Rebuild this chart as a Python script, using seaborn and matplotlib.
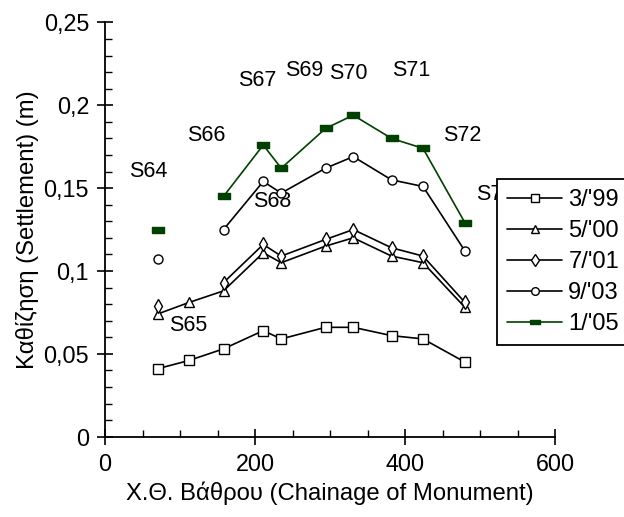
import numpy as np
import pandas as pd
import matplotlib
matplotlib.use("Agg")
import matplotlib.pyplot as plt
from matplotlib.lines import Line2D
from matplotlib.ticker import MultipleLocator, FuncFormatter
import seaborn as sns

# Monument chainage (m) and station names
chainage = [70, 112, 158, 211, 235, 294, 331, 382, 424, 480]
stations = ["S64", "S65", "S66", "S67", "S68", "S69", "S70", "S71", "S72", "S73"]

# Settlement (m) per survey; NaN = station not measured
s_mar99 = [0.041, 0.046, 0.053, 0.064, 0.059, 0.066, 0.066, 0.061, 0.059, 0.045]
s_may00 = [0.074, 0.081, 0.088, 0.111, 0.105, 0.115, 0.120, 0.109, 0.105, 0.078]
s_jul01 = [0.079, np.nan, 0.093, 0.116, 0.109, 0.119, 0.125, 0.114, 0.109, 0.081]
s_sep03 = [0.107, np.nan, 0.125, 0.154, 0.147, 0.162, 0.169, 0.155, 0.151, 0.112]
s_jan05 = [0.125, np.nan, 0.145, 0.176, 0.162, 0.186, 0.194, 0.180, 0.174, 0.129]

survey_labels = ["3/'99", "5/'00", "7/'01", "9/'03", "1/'05"]

# Station label positions (chainage, settlement)
label_x = [57, 111, 135, 203, 223, 265, 324, 408, 476, 520]
label_y = [0.160, 0.067, 0.182, 0.215, 0.142, 0.221, 0.219, 0.221, 0.182, 0.146]

sns.set_style("ticks")
plt.rcParams["font.family"] = ["Liberation Sans", "DejaVu Sans"]
plt.rcParams["text.color"] = "black"
plt.rcParams["axes.labelcolor"] = "black"
plt.rcParams["xtick.color"] = "black"
plt.rcParams["ytick.color"] = "black"
FS_TEXT = 15.5
FS_TICK = 16.8
FS_LABEL = 17.2
FS_LEGEND = 17

fig = plt.figure(figsize=(6.24, 5.17), dpi=100)
ax = fig.add_axes([105 / 624, 1 - 436.7 / 517, 450 / 624, (436.7 - 22.4) / 517])

green = "#004000"
rect_marker = [(-1, -0.42), (1, -0.42), (1, 0.42), (-1, 0.42), (-1, -0.42)]
styles = [
    dict(marker="s", ms=6.5, mfc="white", mec="black", color="black"),
    dict(marker="^", ms=7, mfc="white", mec="black", color="black"),
    dict(marker="d", ms=7, mfc="white", mec="black", color="black"),
    dict(marker="o", ms=6.5, mfc="white", mec="black", color="black"),
    dict(marker=rect_marker, ms=9, mfc=green, mec=green, color=green),
]


def segments(values):
    """Split a series at missing values so gaps stay unconnected."""
    seg, ids = 0, []
    prev_nan = False
    for v in values:
        if np.isnan(v):
            prev_nan = True
            ids.append(-1)
            continue
        if prev_nan:
            seg += 1
        prev_nan = False
        ids.append(seg)
    return ids


series_vals = [s_mar99, s_may00, s_jul01, s_sep03, s_jan05]

handles = []
for vals, lab, st in zip(series_vals, survey_labels, styles):
    df = pd.DataFrame({"chainage": chainage, "settlement": vals,
                       "seg": segments(vals)})
    df = df[df["seg"] >= 0]
    sns.lineplot(data=df, x="chainage", y="settlement", units="seg",
                 estimator=None, sort=False, ax=ax, legend=False,
                 color=st["color"], linewidth=1.2, marker=st["marker"],
                 markersize=st["ms"], markerfacecolor=st["mfc"],
                 markeredgecolor=st["mec"], markeredgewidth=1.0, zorder=3)
    handles.append(Line2D([], [], color=st["color"], linewidth=1.2,
                          marker=st["marker"], markersize=st["ms"] * 0.85,
                          markerfacecolor=st["mfc"], markeredgecolor=st["mec"],
                          markeredgewidth=1.0, label=lab))

for name, lx, ly in zip(stations, label_x, label_y):
    ax.text(lx, ly, name, fontsize=FS_TEXT, ha="center", va="center", zorder=2)

ax.set_xlim(0, 600)
ax.set_ylim(0, 0.25)
ax.xaxis.set_major_locator(MultipleLocator(200))
ax.xaxis.set_minor_locator(MultipleLocator(50))
ax.yaxis.set_major_locator(MultipleLocator(0.05))
ax.yaxis.set_minor_locator(MultipleLocator(0.01))
ax.yaxis.set_major_formatter(FuncFormatter(lambda v, p: f"{v:g}".replace(".", ",")))
ax.xaxis.set_major_formatter(FuncFormatter(lambda v, p: f"{v:g}"))

ax.tick_params(which="major", direction="inout", length=11, width=1.2,
               labelsize=FS_TICK, color="black", labelcolor="black", pad=6)
ax.tick_params(which="minor", direction="in", length=5, width=1.0, color="black")
for side in ("top", "right"):
    ax.spines[side].set_visible(False)
for side in ("left", "bottom"):
    ax.spines[side].set_linewidth(1.3)
    ax.spines[side].set_color("black")

ax.set_xlabel("Χ.Θ. Βάθρου (Chainage of Monument)", fontsize=FS_LABEL,
              labelpad=4, color="black")
ax.set_ylabel("Καθίζηση (Settlement) (m)", fontsize=FS_LABEL, labelpad=3,
              color="black")

leg = ax.legend(handles=handles, loc="upper left",
                bbox_to_anchor=(497 / 624, 1 - 179 / 517),
                bbox_transform=fig.transFigure, fontsize=FS_LEGEND,
                frameon=True, fancybox=False, framealpha=1, edgecolor="black",
                handlelength=2.35, handletextpad=0.25, labelspacing=0.38,
                borderpad=0.42, borderaxespad=0)
leg.get_frame().set_linewidth(1.3)
leg.set_zorder(10)
for t in leg.get_texts():
    t.set_color("black")

fig.savefig("out.png", dpi=100)
